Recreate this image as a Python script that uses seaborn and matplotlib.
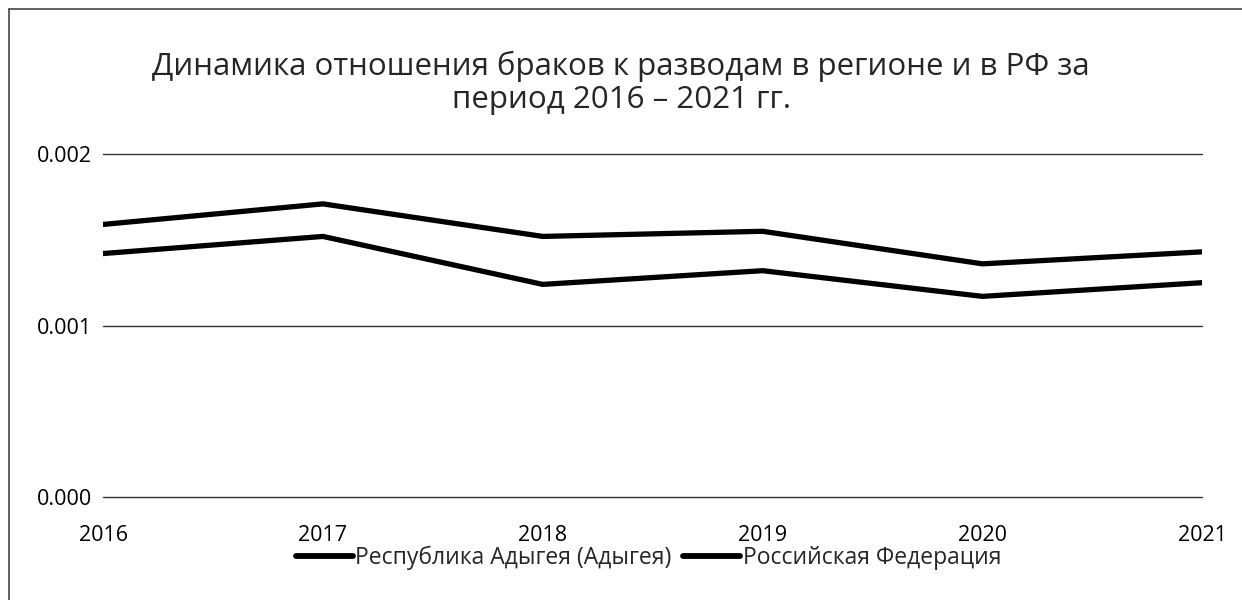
import seaborn as sns
import matplotlib.pyplot as plt
import pandas as pd
from matplotlib.lines import Line2D

years = [2016, 2017, 2018, 2019, 2020, 2021]
adygea = [0.00159, 0.00171, 0.00152, 0.00155, 0.00136, 0.00143]
russia = [0.00142, 0.00152, 0.00124, 0.00132, 0.00117, 0.00125]
series_names = ["Республика Адыгея (Адыгея)", "Российская Федерация"]
y_ticks = [0.000, 0.001, 0.002]

df = pd.DataFrame({
    "year": years * 2,
    "value": adygea + russia,
    "region": [series_names[0]] * len(years) + [series_names[1]] * len(years),
})

sns.set_style("white")
plt.rcParams["font.family"] = ["Open Sans", "DejaVu Sans"]

fig = plt.figure(figsize=(12.42, 6), dpi=100)
ax = fig.add_axes([0.083, 0.172, 0.885, 0.571])

sns.lineplot(data=df, x="year", y="value", hue="region",
             palette={series_names[0]: "black", series_names[1]: "black"},
             linewidth=3.8, legend=False, ax=ax, zorder=3)

ax.set_xlim(years[0], years[-1])
ax.set_ylim(0, 0.002)
ax.set_yticks(y_ticks)
ax.set_yticklabels([f"{v:.3f}" for v in y_ticks])
ax.set_xticks(years)
ax.set_xticklabels([str(y) for y in years])
for v in y_ticks:
    ax.axhline(v, color="#333333", linewidth=1.0, clip_on=False, zorder=1)
ax.set_xlabel("")
ax.set_ylabel("")
for s in ax.spines.values():
    s.set_visible(False)
ax.tick_params(axis="both", length=0, labelsize=15.5, labelcolor="black")
ax.tick_params(axis="x", pad=20)
ax.tick_params(axis="y", pad=8)

fig.suptitle("Динамика отношения браков к разводам в регионе и в РФ за\nпериод 2016 – 2021 гг.",
             y=0.915, fontsize=22.5, linespacing=1.1)

handles = [Line2D([0], [0], color="black", linewidth=4.2) for _ in series_names]
fig.legend(handles, series_names, loc="center", bbox_to_anchor=(0.522, 0.07),
           ncol=2, frameon=False, fontsize=16.5, handlelength=2.5,
           handletextpad=0.1, columnspacing=0.5)

# scanned border (left and top edges)
fig.add_artist(Line2D([0.007, 0.007], [0, 0.985], color="#444444", linewidth=1.2,
                      transform=fig.transFigure))
fig.add_artist(Line2D([0.007, 1.0], [0.985, 0.985], color="#444444", linewidth=1.2,
                      transform=fig.transFigure))

fig.savefig("out.png", dpi=100)
